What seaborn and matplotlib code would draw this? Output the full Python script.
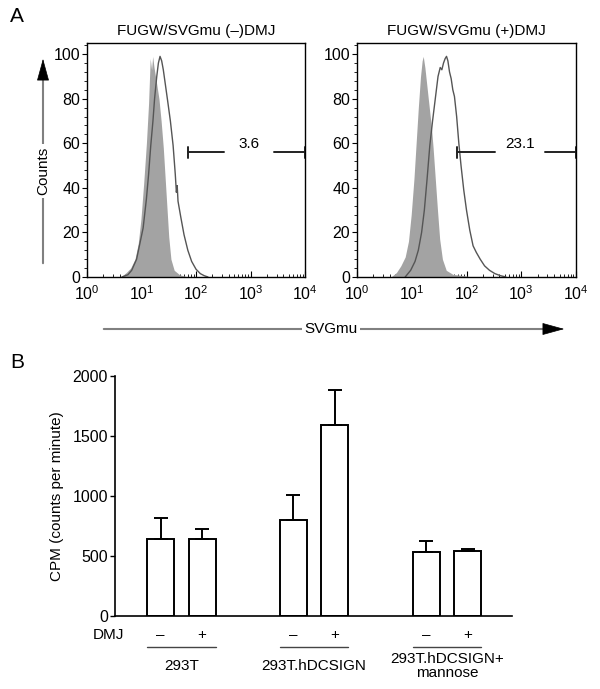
import numpy as np
import pandas as pd
import matplotlib
matplotlib.use("Agg")
import matplotlib.pyplot as plt
import seaborn as sns
from matplotlib import transforms
from matplotlib.patches import FancyArrowPatch
from matplotlib.ticker import LogLocator, MultipleLocator, NullFormatter

# ---- panel A: flow histograms (log10 SVGmu intensity, counts as % of max) ----
neg_log_minus = [0.62, 0.72, 0.80, 0.88, 0.94, 0.99, 1.04, 1.09, 1.13, 1.16, 1.185, 1.205,
                 1.23, 1.27, 1.32, 1.36, 1.40, 1.44, 1.47, 1.50, 1.54, 1.60, 1.70, 1.85]
neg_cnt_minus = [0, 2, 4, 8, 15, 26, 42, 60, 78, 98, 93, 99,
                 94, 88, 80, 70, 58, 42, 30, 18, 8, 3, 1, 0]
pos_log_minus = [0.64, 0.75, 0.82, 0.91, 0.97, 1.03, 1.09, 1.13, 1.17, 1.21, 1.24, 1.28, 1.31,
                 1.34, 1.37, 1.40, 1.44, 1.48, 1.53, 1.58, 1.62, 1.64, 1.655, 1.67, 1.72, 1.78,
                 1.85, 1.92, 2.00, 2.08, 2.15, 2.22]
pos_cnt_minus = [0, 1, 3, 8, 15, 22, 35, 46, 59, 70, 80, 90, 96,
                 99, 97, 93, 86, 79, 70, 59, 46, 38, 41, 34, 27, 19,
                 12, 7, 3.5, 1.5, 0.6, 0]

neg_log_plus = [0.62, 0.72, 0.80, 0.88, 0.94, 0.99, 1.04, 1.08, 1.12, 1.16, 1.19, 1.21, 1.24,
                1.28, 1.32, 1.36, 1.39, 1.43, 1.47, 1.51, 1.56, 1.63, 1.75, 1.95, 2.10]
neg_cnt_plus = [0, 2, 5, 9, 16, 28, 44, 60, 76, 90, 97, 99, 94,
                85, 76, 67, 58, 44, 30, 17, 8, 3, 1.2, 0.6, 0]
pos_log_plus = [0.88, 0.98, 1.06, 1.12, 1.18, 1.23, 1.28, 1.33, 1.38, 1.43, 1.48, 1.52, 1.55,
                1.58, 1.61, 1.635, 1.66, 1.69, 1.72, 1.75, 1.78, 1.82, 1.86, 1.90, 1.95, 2.00,
                2.06, 2.12, 2.18, 2.25, 2.33, 2.42, 2.52, 2.62, 2.72]
pos_cnt_plus = [0, 3, 7, 12, 20, 30, 44, 59, 70, 80, 90, 94, 93,
                96, 98, 99, 97, 92, 89, 84, 81, 72, 60, 50, 39, 30,
                21, 14, 11, 8, 5, 3, 1.5, 0.6, 0]

hist_titles = ["FUGW/SVGmu (\u2013)DMJ", "FUGW/SVGmu (+)DMJ"]
gate_start = [1.85, 1.83]      # log10 of gate left edge
gate_pct = ["3.6", "23.1"]

# ---- panel B: binding assay ----
cell_groups = ["293T", "293T.hDCSIGN", "293T.hDCSIGN+\nmannose"]
dmj_marks = ["\u2013", "+"]
cpm_mean = [640, 645, 800, 1590, 535, 545]
cpm_err = [175, 80, 205, 295, 90, 17]

sns.set_theme(style="ticks")
plt.rcParams["font.family"] = ["Liberation Sans", "DejaVu Sans"]
plt.rcParams["font.size"] = 11
plt.rcParams["axes.linewidth"] = 1.0
for k in ("text.color", "axes.labelcolor", "xtick.color", "ytick.color", "axes.edgecolor"):
    plt.rcParams[k] = "black"

W, H = 600, 689
fig = plt.figure(figsize=(W / 100, H / 100), dpi=100)


def fx(px):
    return px / W


def fy(py):
    return 1 - py / H


def draw_hist(ax, neg_log, neg_cnt, pos_log, pos_cnt, title, g0, pct):
    ax.fill_between(10 ** np.array(neg_log), neg_cnt, color="#a3a3a3", lw=0)
    sns.lineplot(x=10 ** np.array(pos_log), y=pos_cnt, ax=ax, color="#555555",
                 lw=1.0, sort=False, estimator=None)
    ax.set_xscale("log")
    ax.set_xlim(1, 1e4)
    ax.set_ylim(0, 105)
    ax.xaxis.set_major_locator(LogLocator(base=10, numticks=10))
    ax.xaxis.set_minor_locator(LogLocator(base=10, subs=np.arange(2, 10), numticks=50))
    ax.xaxis.set_minor_formatter(NullFormatter())
    ax.set_yticks(np.arange(0, 101, 20))
    ax.yaxis.set_minor_locator(MultipleLocator(4))
    ax.tick_params(axis="x", which="major", direction="in", length=4, width=0.8,
                   labelsize=11.5, pad=5)
    ax.tick_params(axis="x", which="minor", direction="in", length=2.5, width=0.6)
    ax.tick_params(axis="y", which="major", direction="out", length=3.5, width=0.8,
                   labelsize=11.5, pad=1.5)
    ax.tick_params(axis="y", which="minor", direction="out", length=2, width=0.6)
    ax.set_title(title, fontsize=11, pad=6)
    ax.set_xlabel("")
    ax.set_ylabel("")

    # gate marker with label in a gap of the line
    y_gate, tc = 56, 2.98
    lo, hi = 10 ** g0, 1e4
    ax.plot([lo, 10 ** (tc - 0.46)], [y_gate, y_gate], color="#222222", lw=1.4, clip_on=False)
    ax.plot([10 ** (tc + 0.46), hi], [y_gate, y_gate], color="#222222", lw=1.4, clip_on=False)
    for xe in (lo, hi):
        ax.plot([xe, xe], [y_gate - 2.5, y_gate + 2.5], color="#222222", lw=1.4, clip_on=False)
    ax.text(10 ** tc, 59.5, pct, ha="center", va="center", fontsize=11)


axL = fig.add_axes([fx(87), fy(277), 218 / W, 234 / H])
axR = fig.add_axes([fx(357), fy(277), 219 / W, 234 / H])
draw_hist(axL, neg_log_minus, neg_cnt_minus, pos_log_minus, pos_cnt_minus,
          hist_titles[0], gate_start[0], gate_pct[0])
draw_hist(axR, neg_log_plus, neg_cnt_plus, pos_log_plus, pos_cnt_plus,
          hist_titles[1], gate_start[1], gate_pct[1])

# axis arrows for panel A
head = "-|>,head_length=0.8,head_width=0.22"
fig.add_artist(FancyArrowPatch((fx(43), fy(266)), (fx(43), fy(70)), transform=fig.transFigure,
                               arrowstyle="-", color="#808080", lw=1.5))
fig.add_artist(FancyArrowPatch((fx(43), fy(76)), (fx(43), fy(56)), transform=fig.transFigure,
                               arrowstyle=head, mutation_scale=18, color="black", lw=0.5))
fig.text(fx(43), fy(171), "Counts", rotation=90, ha="center", va="center", fontsize=11,
         bbox=dict(fc="white", ec="none", pad=2))

fig.add_artist(FancyArrowPatch((fx(101), fy(329)), (fx(550), fy(329)), transform=fig.transFigure,
                               arrowstyle="-", color="#808080", lw=1.5))
fig.add_artist(FancyArrowPatch((fx(545), fy(329)), (fx(567), fy(329)), transform=fig.transFigure,
                               arrowstyle=head, mutation_scale=18, color="black", lw=0.5))
fig.text(fx(331), fy(329), "SVGmu", ha="center", va="center", fontsize=11,
         bbox=dict(fc="white", ec="none", pad=2))

fig.text(fx(17), fy(16), "A", ha="center", va="center", fontsize=15)
fig.text(fx(17), fy(363), "B", ha="center", va="center", fontsize=15)

# ---- panel B ----
axB = fig.add_axes([fx(115), fy(616), 397 / W, 240 / H])
bar_x = []
for g in range(len(cell_groups)):
    for d in range(len(dmj_marks)):
        bar_x.append(g * 3.2 + d)
df = pd.DataFrame({"x": bar_x, "cpm": cpm_mean})
bw = 0.65
sns.barplot(data=df, x="x", y="cpm", native_scale=True, width=bw, color="white",
            saturation=1, edgecolor="black", linewidth=1.4, errorbar=None, ax=axB)
axB.errorbar(bar_x, cpm_mean, yerr=[np.zeros(len(cpm_err)), cpm_err], fmt="none",
             ecolor="black", elinewidth=1.4, capsize=5, capthick=1.4, zorder=1)
axB.set_xlim(-1.1, 8.47)
axB.set_ylim(0, 2000)
axB.set_yticks(np.arange(0, 2001, 500))
axB.set_xticks([])
axB.set_xlabel("")
axB.set_ylabel("CPM (counts per minute)", fontsize=11, labelpad=6)
axB.tick_params(axis="y", direction="out", length=3.5, width=1, labelsize=11.5, pad=1.5)
sns.despine(ax=axB)
axB.spines["left"].set_linewidth(1.2)
axB.spines["bottom"].set_linewidth(1.2)

trans = transforms.blended_transform_factory(axB.transData, fig.transFigure)
fig.text(fx(124), fy(635), "DMJ", ha="right", va="center", fontsize=11)
for i, xb in enumerate(bar_x):
    axB.text(xb, fy(635), dmj_marks[i % 2], transform=trans, ha="center", va="center",
             fontsize=11)
for g, name in enumerate(cell_groups):
    x0 = bar_x[2 * g] - bw / 2
    x1 = bar_x[2 * g + 1] + bw / 2
    axB.plot([x0, x1], [fy(647), fy(647)], transform=trans, color="#444444", lw=1,
             clip_on=False)
    axB.text((x0 + x1) / 2, fy(666), name, transform=trans, ha="center", va="center",
             fontsize=11, linespacing=0.95)

fig.savefig("out.png", dpi=100)
